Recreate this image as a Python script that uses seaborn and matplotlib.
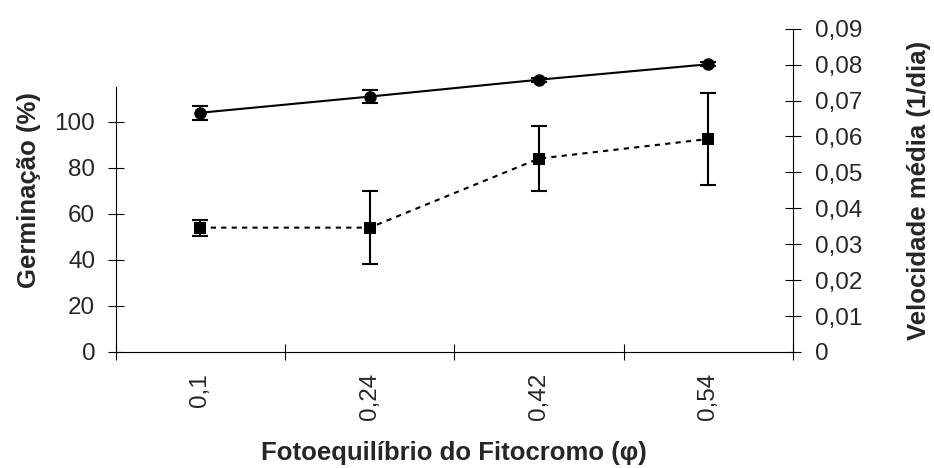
import numpy as np
import pandas as pd
import matplotlib
matplotlib.use("Agg")
import matplotlib.pyplot as plt
import seaborn as sns
from matplotlib.ticker import FuncFormatter

# data
phi_labels = ["0,1", "0,24", "0,42", "0,54"]
germinacao = [54, 54, 84, 92.5]          # %
germinacao_err = [3.5, 16, 14, 20]
velocidade = [0.0666, 0.0711, 0.0758, 0.0801]   # 1/dia
velocidade_err = [0.0019, 0.0017, 0.0006, 0.0005]

pos = np.arange(len(phi_labels))
df = pd.DataFrame({"pos": pos, "germ": germinacao, "vel": velocidade})

sns.set_theme(style="white")
plt.rcParams["font.family"] = ["Liberation Sans", "DejaVu Sans"]

fig = plt.figure(figsize=(9.34, 4.68), dpi=100)
ax = fig.add_axes([0.1239, 0.2479, 0.8490 - 0.1239, 0.9387 - 0.2479])
ax2 = ax.twinx()

# germination (left axis), dashed with squares
sns.lineplot(data=df, x="pos", y="germ", ax=ax, color="black", marker="s",
             markersize=8.5, markeredgewidth=0, linewidth=1.5,
             linestyle=(0, (2.5, 2.5)))
ax.errorbar(pos, germinacao, yerr=germinacao_err, fmt="none", ecolor="black",
            elinewidth=1.5, capsize=5.8, capthick=1.5)

# mean speed (right axis), solid with circles
sns.lineplot(data=df, x="pos", y="vel", ax=ax2, color="black", marker="o",
             markersize=9, markeredgewidth=0, linewidth=1.5)
ax2.errorbar(pos, velocidade, yerr=velocidade_err, fmt="none", ecolor="black",
             elinewidth=1.5, capsize=5.8, capthick=1.5)

# axes limits / spines
ax.set_xlim(-0.5, len(phi_labels) - 0.5)
ax.set_ylim(0, 140.4)
ax2.set_ylim(0, 0.09)
ax.spines["left"].set_bounds(0, 115)
for s in ["top", "right"]:
    ax.spines[s].set_visible(False)
for s in ["top", "left", "bottom"]:
    ax2.spines[s].set_visible(False)
for a in (ax, ax2):
    for s in a.spines.values():
        s.set_color("black")
        s.set_linewidth(0.8)

# ticks
ax.set_xticks(np.arange(len(phi_labels) + 1) - 0.5)
ax.set_xticklabels([])
ax.set_xticks(pos, minor=True)
ax.set_xticklabels(phi_labels, minor=True, rotation=90, fontsize=17.5)
ax.tick_params(axis="x", which="major", direction="inout", length=11.5,
               width=0.8, color="black", bottom=True)
ax.tick_params(axis="x", which="minor", length=0, pad=15, bottom=True)

ax.set_yticks([0, 20, 40, 60, 80, 100])
ax.tick_params(axis="y", direction="inout", length=11.5, width=0.8,
               color="black", labelsize=17.5, pad=9, left=True)
ax2.set_yticks(np.arange(0, 0.0901, 0.01))
ax2.yaxis.set_major_formatter(FuncFormatter(
    lambda v, p: "0" if abs(v) < 1e-9 else f"{v:.2f}".replace(".", ",")))
ax2.tick_params(axis="y", direction="inout", length=11.5, width=0.8,
                color="black", labelsize=17.5, pad=10, right=True)

ax.set_xlabel("Fotoequilíbrio do Fitocromo (φ)", fontsize=18.5,
              fontweight="bold", labelpad=15)
ax.set_ylabel("Germinação (%)", fontsize=18.5, fontweight="bold", labelpad=10)
ax2.set_ylabel("Velocidade média (1/dia)", fontsize=18.5, fontweight="bold",
               labelpad=32)

plt.savefig("out.png", dpi=100)
